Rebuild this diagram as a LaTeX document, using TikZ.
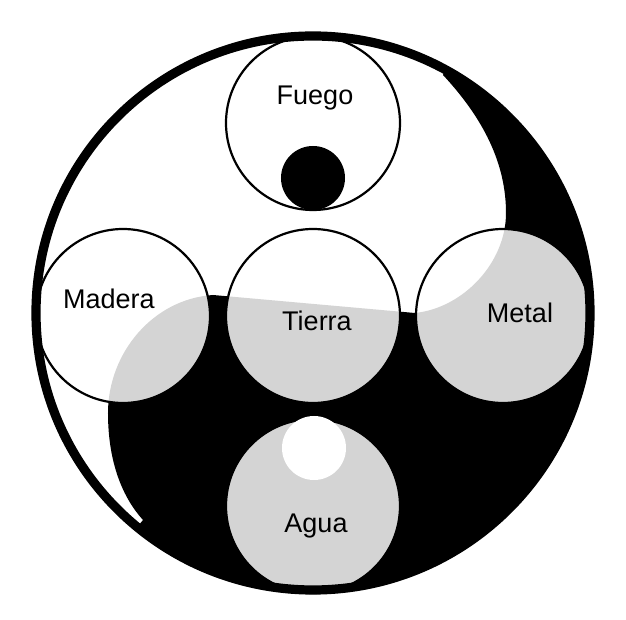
\documentclass[tikz,border=0pt]{standalone}
\usepackage{fontspec}
\setmainfont{Liberation Sans}
\definecolor{shadegray}{gray}{0.83}
\tikzset{
    element/.style={draw=black, line width=1.1pt},
    eltext/.style={font=\fontsize{13.5}{16}\selectfont, anchor=base}
}
\begin{document}
\begin{tikzpicture}[x=0.5pt,y=0.5pt]

            \def \rs{87};
            \def \ds{190};
            \def \Rb{277};
            \def \rdot{32};
            \def \yinpath{(130,238) .. controls (170,195) and (193,150) .. (193,100)
                .. controls (193,50) and (150,5) .. (102,0) -- (-100,18)
                .. controls (-160,14) and (-205,-40) .. (-205,-100)
                .. controls (-205,-150) and (-190,-185) .. (-170,-207)
                -- (230.6:\Rb) arc[start angle=230.6, end angle=421.4, radius=\Rb] -- cycle};

            \useasboundingbox (-313,-307) rectangle (313,313);

            % centres
            \coordinate (fuego) at (0,\ds);
            \coordinate (madera) at (-\ds,-3);
            \coordinate (tierra) at (0,-3);
            \coordinate (metal) at (\ds,-3);
            \coordinate (agua) at (0,-193);

            % yin
            \fill[black] \yinpath;

            % elements, shaded where they lie in the yin
            \foreach \el in {madera,tierra,metal,agua} {
                \fill[white] (\el) circle (\rs);
                \begin{scope}
                    \clip (\el) circle (\rs);
                    \fill[shadegray] \yinpath;
                \end{scope}
            }
            \fill[white] (fuego) circle (\rs);

            % outlines
            \foreach \el in {fuego,madera,tierra,metal,agua} {
                \draw[element] (\el) circle (\rs);
            }

            % dots
            \fill[black] (0,135) circle (\rdot);
            \fill[white] (1,-135) circle (\rdot);

            \draw[line width=4.6pt] (0,0) circle (\Rb);

            % names
            \node (fuegolbl) at (2,208) [eltext] {Fuego};
            \node (maderalbl) at (-204,4) [eltext] {Madera};
            \node (tierralbl) at (4,-18) [eltext] {Tierra};
            \node (metallbl) at (207,-10) [eltext] {Metal};
            \node (agualbl) at (3,-220) [eltext] {Agua};

\end{tikzpicture}
\end{document}
